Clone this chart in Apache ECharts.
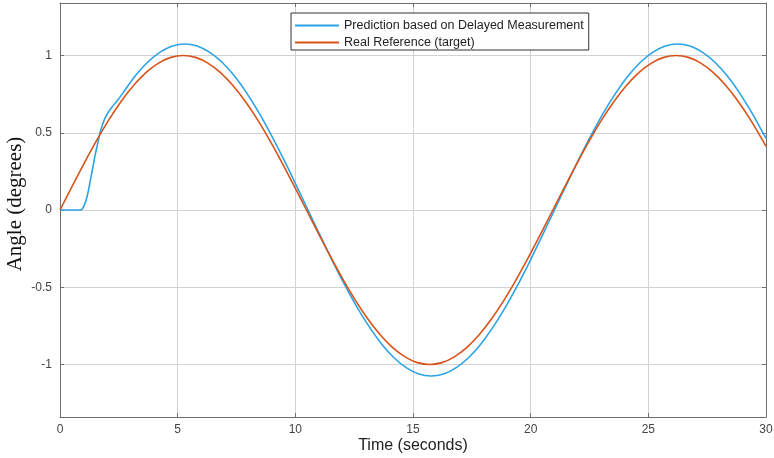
<!DOCTYPE html>
<html>
<head>
<meta charset="utf-8">
<script src="https://cdn.jsdelivr.net/npm/echarts@6/dist/echarts.min.js"></script>
<style>
  html, body { margin: 0; padding: 0; background: #fff; }
  #main { width: 774px; height: 458px; }
</style>
</head>
<body>
<div id="main"></div>
<script>
// time samples (seconds) and values
var refTime = [0, 0.524, 1.047, 1.571, 2.094, 2.618, 3.142, 3.665, 4.189, 4.712, 5.236,
  5.760, 6.283, 6.807, 7.330, 7.854, 8.378, 8.901, 9.425, 9.948, 10.472,
  10.996, 11.519, 12.043, 12.566, 13.090, 13.614, 14.137, 14.661, 15.184, 15.708,
  16.232, 16.755, 17.279, 17.802, 18.326, 18.850, 19.373, 19.897, 20.420, 20.944,
  21.468, 21.991, 22.515, 23.038, 23.562, 24.086, 24.609, 25.133, 25.656, 26.180,
  26.704, 27.227, 27.751, 28.274, 28.798, 29.322, 29.845, 30];
var refValues = [0, 0.156, 0.309, 0.454, 0.588, 0.707, 0.809, 0.891, 0.951, 0.988, 1.0,
  0.988, 0.951, 0.891, 0.809, 0.707, 0.588, 0.454, 0.309, 0.156, 0,
  -0.156, -0.309, -0.454, -0.588, -0.707, -0.809, -0.891, -0.951, -0.988, -1.0,
  -0.988, -0.951, -0.891, -0.809, -0.707, -0.588, -0.454, -0.309, -0.156, 0,
  0.156, 0.309, 0.454, 0.588, 0.707, 0.809, 0.891, 0.951, 0.988, 1.0,
  0.988, 0.951, 0.891, 0.809, 0.707, 0.588, 0.454, 0.412];

var predTime = [0, 0.5, 0.9, 1.0, 1.1, 1.2, 1.3, 1.4, 1.5, 1.6, 1.7, 1.8, 1.9, 2.0, 2.2, 2.4,
  2.685, 3.209, 3.732, 4.256, 4.779, 5.303,
  5.827, 6.350, 6.874, 7.397, 7.921, 8.445, 8.968, 9.492, 10.015, 10.539,
  11.063, 11.586, 12.110, 12.633, 13.157, 13.681, 14.204, 14.728, 15.251, 15.775,
  16.299, 16.822, 17.346, 17.869, 18.393, 18.917, 19.440, 19.964, 20.487, 21.011,
  21.535, 22.058, 22.582, 23.105, 23.629, 24.153, 24.676, 25.200, 25.723, 26.247,
  26.771, 27.294, 27.818, 28.341, 28.865, 29.389, 29.912, 30];
var predValues = [0, 0, 0, 0.02, 0.06, 0.12, 0.2, 0.28, 0.36, 0.43, 0.5, 0.55, 0.59, 0.62, 0.665, 0.70,
  0.760, 0.870, 0.958, 1.022, 1.062, 1.075,
  1.062, 1.022, 0.958, 0.870, 0.760, 0.632, 0.488, 0.332, 0.168, 0,
  -0.168, -0.332, -0.488, -0.632, -0.760, -0.870, -0.958, -1.022, -1.062, -1.075,
  -1.062, -1.022, -0.958, -0.870, -0.760, -0.632, -0.488, -0.332, -0.168, 0,
  0.168, 0.332, 0.488, 0.632, 0.760, 0.870, 0.958, 1.022, 1.062, 1.075,
  1.062, 1.022, 0.958, 0.870, 0.760, 0.632, 0.488, 0.463];

var seriesNames = ['Prediction based on Delayed Measurement', 'Real Reference (target)'];

function pairs(xs, ys) {
  var out = [];
  for (let i = 0; i < xs.length; i++) out.push([xs[i], ys[i]]);
  return out;
}

var myChart = echarts.init(document.getElementById('main'));

var axisColor = '#6e6e6e';
var gridColor = '#d2d2d2';
var labelFont = 'Liberation Sans, Arial, sans-serif';

var option = {
  backgroundColor: '#fff',
  animation: false,
  grid: { left: 60, right: 8, top: 3, bottom: 41, outerBoundsMode: 'none' },
  legend: {
    left: 291,
    top: 13,
    orient: 'vertical',
    backgroundColor: '#fff',
    borderColor: '#333',
    borderWidth: 1,
    padding: [6, 5, 1, 4],
    itemGap: 4,
    itemWidth: 44,
    itemHeight: 2,
    textStyle: { fontFamily: labelFont, fontSize: 12.5, color: '#222' },
    data: [
      { name: seriesNames[0], icon: 'rect' },
      { name: seriesNames[1], icon: 'rect' }
    ]
  },
  xAxis: [
    {
      type: 'value',
      min: 0,
      max: 30,
      interval: 5,
      name: 'Time (seconds)',
      nameLocation: 'middle',
      nameGap: 21,
      nameMoveOverlap: false,
      nameTextStyle: { fontFamily: labelFont, fontSize: 16, color: '#222' },
      axisLine: { onZero: false, lineStyle: { color: axisColor } },
      axisTick: { inside: true, length: 4, lineStyle: { color: axisColor } },
      axisLabel: { fontFamily: labelFont, fontSize: 12, color: '#444', margin: 7 },
      splitLine: { show: true, lineStyle: { color: gridColor } }
    },
    {
      type: 'value',
      position: 'top',
      min: 0,
      max: 30,
      interval: 5,
      axisLine: { onZero: false, lineStyle: { color: axisColor } },
      axisTick: { inside: true, length: 4, lineStyle: { color: axisColor } },
      axisLabel: { show: false },
      splitLine: { show: false }
    }
  ],
  yAxis: [
    {
      type: 'value',
      min: -1.34,
      max: 1.34,
      name: 'Angle (degrees)',
      nameLocation: 'middle',
      nameGap: 34,
      nameMoveOverlap: false,
      nameTextStyle: {
        fontFamily: 'Liberation Serif, Times New Roman, serif', fontSize: 21, color: '#111',
        padding: [0, 0, 0, 12]
      },
      axisLine: { show: true, onZero: false, lineStyle: { color: axisColor } },
      axisTick: { show: true, inside: true, length: 4, lineStyle: { color: axisColor } },
      axisLabel: {
        fontFamily: labelFont, fontSize: 12, color: '#444', margin: 8,
        formatter: function (v) {
          if (Math.abs(v * 2 - Math.round(v * 2)) > 1e-6) return '';
          return String(Math.round(v * 10) / 10);
        }
      },
      splitLine: { show: true, lineStyle: { color: gridColor } }
    },
    {
      type: 'value',
      position: 'right',
      min: -1.34,
      max: 1.34,
      axisLine: { show: true, onZero: false, lineStyle: { color: axisColor } },
      axisTick: { show: true, inside: true, length: 4, lineStyle: { color: axisColor } },
      axisLabel: { show: false },
      splitLine: { show: false }
    }
  ],
  series: [
    {
      name: seriesNames[0],
      type: 'line',
      data: pairs(predTime, predValues),
      showSymbol: false,
      smooth: 0.3,
      color: '#2ba3e6',
      lineStyle: { width: 1.6, color: '#2ba3e6' }
    },
    {
      name: seriesNames[1],
      type: 'line',
      data: pairs(refTime, refValues),
      showSymbol: false,
      smooth: 0.3,
      color: '#d95319',
      lineStyle: { width: 1.6, color: '#d95319' }
    }
  ]
};

myChart.setOption(option);
</script>
</body>
</html>
